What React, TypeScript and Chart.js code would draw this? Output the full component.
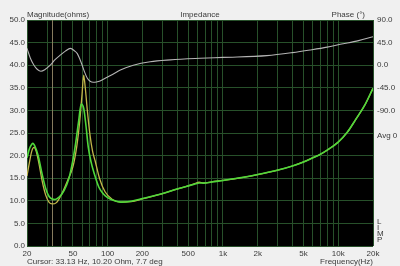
import React, { useEffect, useRef } from 'react';
import { Chart, registerables } from 'chart.js';
Chart.register(...registerables);

// Magnitude curve A (green)
const freqGreen = [20, 21, 22, 22.5, 23.5, 25, 27, 29, 31, 33, 35, 38, 42, 46, 50, 53, 56, 59, 62, 65, 68, 72, 77, 84, 92, 100, 115, 130, 160, 200, 300, 400, 500, 580, 620, 680, 800, 1000, 1500, 2000, 3000, 4000, 5000, 6000, 7000, 8000, 10000, 12000, 14000, 17000, 20000];
const magGreen = [19.5, 21.5, 22.5, 22.7, 22, 20, 16, 12.8, 11, 10.4, 10.3, 10.8, 12.3, 14.8, 19, 23, 27.5, 31.4, 30.5, 26.5, 21.8, 18.5, 15.8, 13, 11.5, 10.7, 10, 9.7, 9.9, 10.5, 11.6, 12.6, 13.3, 13.75, 13.95, 13.9, 14.15, 14.5, 15.2, 15.8, 16.8, 17.7, 18.6, 19.5, 20.3, 21.2, 23, 25.2, 27.8, 31.2, 34.9];

// Magnitude curve B (yellow)
const freqYellow = [20, 21, 22, 23, 24, 25.5, 27, 29, 31, 33, 36, 40, 45, 50, 54, 57, 60, 62, 64, 67, 70, 74, 78, 85, 95, 110, 130, 160, 200, 300, 400, 500, 580, 620, 680, 800, 1000, 1500, 2000, 3000, 4000, 5000, 6000, 7000, 8000, 10000, 12000, 14000, 17000, 20000];
const magYellow = [15.5, 18.5, 21, 21.8, 21, 18, 14.5, 11.3, 9.7, 9.3, 9.6, 11.5, 14.5, 17.5, 22, 27, 33.5, 37.8, 35, 29.5, 25, 21, 18.8, 15, 12, 10.3, 9.7, 9.8, 10.4, 11.6, 12.6, 13.3, 13.85, 14.1, 13.95, 14.2, 14.5, 15.2, 15.8, 16.8, 17.7, 18.6, 19.5, 20.3, 21.2, 23, 25.2, 27.8, 31.2, 34.9];

// Phase curve (degrees)
const freqPhase = [20, 21.4, 23, 24.5, 26.4, 28.5, 31.8, 35, 38.8, 43, 47.5, 52, 54.6, 57.5, 60.2, 63, 66.7, 70.5, 75, 80, 86, 99, 115, 129, 167, 234, 350, 634, 1000, 2400, 4000, 5700, 8000, 10400, 15000, 20000];
const phaseDeg = [33.6, 14, 0, -8, -12, -9, 0, 11, 20, 28, 33.6, 28, 23, 12, 0, -13, -26, -32, -34, -33.5, -31.5, -24, -16, -9.6, 0, 7, 10.6, 13.7, 15.5, 19.1, 25, 30.3, 36, 41.6, 49, 56.7];

const gridFreqs = [20, 30, 40, 50, 60, 70, 80, 90, 100, 200, 300, 400, 500, 600, 700, 800, 900, 1000, 2000, 3000, 4000, 5000, 6000, 7000, 8000, 9000, 10000, 20000];
const xLabels: Record<number, string> = { 20: '20', 50: '50', 100: '100', 200: '200', 500: '500', 1000: '1k', 2000: '2k', 5000: '5k', 10000: '10k', 20000: '20k' };

const cursorFreq = 33.13;
const cursorText = 'Cursor: 33.13 Hz, 10.20 Ohm, 7.7 deg';

const FONT = '"Liberation Sans", Arial, sans-serif';
const TEXT = '#3a3a3a';
const GRID = '#27502a';

export default function App() {
  const ref = useRef<HTMLCanvasElement>(null);
  useEffect(() => {
    document.body.style.margin = '0';
    document.body.style.background = '#f0f0f0';
    const canvas = ref.current!;
    const plugin = {
      id: 'decor',
      beforeDraw(chart: any) {
        const { ctx, chartArea } = chart;
        ctx.save();
        ctx.fillStyle = '#f0f0f0';
        ctx.fillRect(0, 0, chart.width, chart.height);
        ctx.fillStyle = '#000';
        ctx.fillRect(chartArea.left, chartArea.top, chartArea.right - chartArea.left, chartArea.bottom - chartArea.top);
        ctx.restore();
      },
      beforeDatasetsDraw(chart: any) {
        const { ctx, chartArea, scales } = chart;
        const x = Math.round(scales.x.getPixelForValue(cursorFreq)) + 0.5;
        ctx.save();
        ctx.strokeStyle = '#867b5e';
        ctx.lineWidth = 1;
        ctx.beginPath();
        ctx.moveTo(x, chartArea.top);
        ctx.lineTo(x, chartArea.bottom);
        ctx.stroke();
        ctx.restore();
      },
      afterDraw(chart: any) {
        const { ctx, chartArea } = chart;
        ctx.save();
        ctx.fillStyle = TEXT;
        ctx.font = `8px ${FONT}`;
        ctx.textBaseline = 'middle';
        ctx.textAlign = 'left';
        ctx.fillText('Magnitude(ohms)', chartArea.left, 15);
        ctx.textAlign = 'center';
        ctx.fillText('Impedance', (chartArea.left + chartArea.right) / 2, 15);
        ctx.textAlign = 'right';
        ctx.fillText('Phase (\u00b0)', chartArea.right - 8, 15);
        ctx.textAlign = 'left';
        ctx.fillText('Avg 0', chartArea.right + 4, 136);
        const letters = ['L', 'I', 'M', 'P'];
        letters.forEach((l, i) => ctx.fillText(l, chartArea.right + 4, 222 + i * 6));
        ctx.fillText(cursorText, chartArea.left, 262);
        ctx.textAlign = 'right';
        ctx.fillText('Frequency(Hz)', chartArea.right, 262);
        ctx.restore();
      },
    };

    const chart = new Chart(canvas, {
      type: 'line',
      data: {
        datasets: [
          {
            label: 'green',
            data: freqGreen.map((f, i) => ({ x: f, y: magGreen[i] })),
            borderColor: '#4fd83a',
            borderWidth: 1.6,
            pointRadius: 0,
            cubicInterpolationMode: 'monotone',
            yAxisID: 'y',
          },
          {
            label: 'yellow',
            data: freqYellow.map((f, i) => ({ x: f, y: magYellow[i] })),
            borderColor: '#c2b64a',
            borderWidth: 1.3,
            pointRadius: 0,
            cubicInterpolationMode: 'monotone',
            yAxisID: 'y',
          },
          {
            label: 'phase',
            data: freqPhase.map((f, i) => ({ x: f, y: phaseDeg[i] })),
            borderColor: '#b4b4b4',
            borderWidth: 1.1,
            pointRadius: 0,
            cubicInterpolationMode: 'monotone',
            yAxisID: 'y2',
          },
        ],
      },
      options: {
        responsive: false,
        animation: false,
        layout: { padding: { top: 20, left: 0, right: 0, bottom: 0 } },
        plugins: { legend: { display: false }, tooltip: { enabled: false } },
        scales: {
          x: {
            type: 'logarithmic',
            min: 20,
            max: 20000,
            afterBuildTicks: (scale: any) => {
              scale.ticks = gridFreqs.map((v) => ({ value: v }));
            },
            afterFit: (scale: any) => {
              scale.height = 20;
            },
            ticks: {
              autoSkip: false,
              maxRotation: 0,
              padding: 3,
              color: TEXT,
              font: { family: FONT, size: 8 },
              callback: (v: any) => xLabels[Number(v)] ?? '',
            },
            grid: { color: GRID, drawTicks: false, lineWidth: 1 },
            border: { display: false },
          },
          y: {
            type: 'linear',
            position: 'left',
            min: 0,
            max: 50,
            afterFit: (scale: any) => {
              scale.width = 27;
            },
            ticks: {
              stepSize: 5,
              padding: 2,
              color: TEXT,
              font: { family: FONT, size: 8 },
              callback: (v: any) => Number(v).toFixed(1),
            },
            grid: { color: GRID, drawTicks: false, lineWidth: 1 },
            border: { display: false },
          },
          y2: {
            type: 'linear',
            position: 'right',
            min: -360,
            max: 90,
            afterFit: (scale: any) => {
              scale.width = 27;
            },
            ticks: {
              stepSize: 45,
              padding: 4,
              color: TEXT,
              font: { family: FONT, size: 8 },
              callback: (v: any) => (Number(v) >= -90 ? Number(v).toFixed(1) : ''),
            },
            grid: { display: false, drawTicks: false },
            border: { display: false },
          },
        },
      },
      plugins: [plugin],
    } as any);
    return () => chart.destroy();
  }, []);
  return (
    <div style={{ width: 400, height: 266, background: '#f0f0f0' }}>
      <canvas ref={ref} width={400} height={266} style={{ display: 'block' }} />
    </div>
  );
}
